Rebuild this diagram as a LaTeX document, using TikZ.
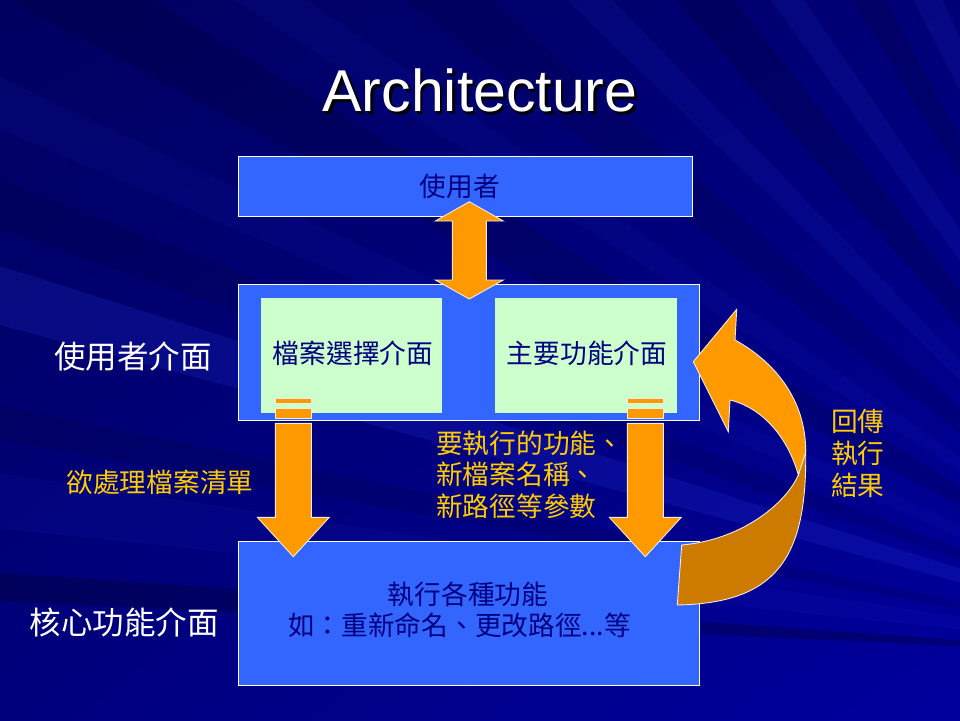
\documentclass[tikz,border=0pt]{standalone}
\usepackage{fontspec}
\setmainfont{Liberation Sans}
\newfontfamily\cjk{Noto Sans CJK TC}
\usetikzlibrary{calc,shadings}

\definecolor{bgUL}{RGB}{0,0,96}
\definecolor{bgUR}{RGB}{0,0,118}
\definecolor{bgLL}{RGB}{0,0,125}
\definecolor{bgLR}{RGB}{0,0,158}
\definecolor{boxblue}{RGB}{51,102,255}
\definecolor{boxgreen}{RGB}{204,255,204}
\definecolor{navytext}{RGB}{0,0,128}
\definecolor{arroworange}{RGB}{255,153,0}
\definecolor{arrowdark}{RGB}{204,122,0}
\definecolor{labelgold}{RGB}{255,204,0}
\definecolor{rimwhite}{RGB}{240,235,225}
\definecolor{raylight}{RGB}{60,80,255}

\begin{document}
\begin{tikzpicture}[x=1pt,y=-1pt,
  bluebox/.style={draw=white, line width=1pt, fill=boxblue, inner sep=0pt},
  greenbox/.style={fill=boxgreen, inner sep=0pt},
  boxtext/.style={font=\cjk\fontsize{26.7}{32}\selectfont, text=navytext, inner sep=0pt},
  sidetext/.style={font=\cjk\fontsize{31.5}{36}\selectfont, text=white, inner sep=0pt},
  goldtext/.style={font=\cjk\fontsize{26.7}{31.5}\selectfont, text=labelgold, inner sep=0pt, align=left},
  blockarrow/.style={fill=arroworange, draw=rimwhite, line width=0.9pt, line join=miter},
  streak/.style={opacity=#1}
]
\useasboundingbox (0,0) rectangle (960,720);

% background with faint rays fanning out from the lower right
\shade[upper left=bgUL, upper right=bgUR, lower left=bgLL, lower right=bgLR]
  (0,0) rectangle (960,720);
\begin{scope}
  \clip (0,0) rectangle (960,720);
  \coordinate (F) at (1250,660);
  \foreach \a/\b/\c/\o in {
      182.7/184/black/0.22, 186/188.5/raylight/0.06, 190/191.5/black/0.10,
      195/197.5/raylight/0.14, 199/201/black/0.10, 203/205/raylight/0.06,
      208/211/black/0.12, 213/215/raylight/0.06, 218/221/black/0.10,
      224/226/raylight/0.08, 229/232/black/0.14, 234/236/raylight/0.09,
      239/241/black/0.12, 243/245/raylight/0.10, 247/249.5/black/0.10,
      251/253/raylight/0.10}
    \fill[\c, streak=\o] (F) -- +(\a:2200) -- +(\b:2200) -- cycle;
\end{scope}

% title with a drop shadow set behind it
\node[font=\fontsize{59}{70}\selectfont, text=white, inner sep=0pt] (title) at (480,92)
  {\makebox[0pt][l]{\hspace{2.5pt}\raisebox{-2.5pt}{\textcolor{black}{Architecture}}}Architecture};

% boxes
\node[bluebox, minimum width=454, minimum height=60, anchor=north west] (user) at (238,156) {};
\node[boxtext] (usertext) at (460,186) {使用者};

\node[bluebox, minimum width=461, minimum height=136, anchor=north west] (ui) at (238,284) {};
\node[greenbox, minimum width=181, minimum height=115, anchor=north west] (filesel) at (261,298) {};
\node[greenbox, minimum width=182, minimum height=115, anchor=north west] (mainfn) at (495,298) {};
\node[boxtext] (fileseltext) at (353,353) {檔案選擇介面};
\node[boxtext] (mainfntext) at (587,353) {主要功能介面};

\node[bluebox, minimum width=461, minimum height=144, anchor=north west] (core) at (238,541) {};
\node[boxtext] (coretext1) at (468,594) {執行各種功能};
\node[boxtext] (coretext2) at (459.5,625) {如：重新命名、更改路徑...等};

% side labels
\node[sidetext] (uilabel) at (133,356) {使用者介面};
\node[sidetext] (corelabel) at (124,622) {核心功能介面};
\node[goldtext] (listlabel) at (160,482) {欲處理檔案清單};
\node[goldtext, anchor=west] (paramlabel) at (436,474.5) {要執行的功能、\\新檔案名稱、\\新路徑等參數};
\node[goldtext, anchor=west, font=\cjk\fontsize{26.7}{32}\selectfont] (returnlabel) at (831,453) {回傳\\執行\\結果};

% two-headed arrow between user and interface
\filldraw[blockarrow]
  (469.3,201.7) -- (503.3,221) -- (486.3,221) -- (486.3,280) -- (503.3,280)
  -- (469.3,299) -- (435.3,280) -- (452.3,280) -- (452.3,221) -- (435.3,221) -- cycle;

% striped down arrows into the core
\tikzset{
  downblock/.pic={
    \filldraw[blockarrow] (-18,398.3) rectangle (18,403.7);
    \filldraw[blockarrow] (-18,408.7) rectangle (18,418.3);
    \filldraw[blockarrow] (-18,423.3) -- (18,423.3) -- (18,517.3) -- (36,517.3)
      -- (0,556.7) -- (-36,517.3) -- (-18,517.3) -- cycle;
  }
}
\pic (leftdown) at (293.3,0) {downblock};
\pic (rightdown) at (645.3,0) {downblock};

% curved return arrow: back face first, then the front face with its head
\filldraw[blockarrow, fill=arrowdark]
  (805.7,452) .. controls (807,560) and (775,603) .. (677.3,605)
  -- (681.7,545) .. controls (740,540) and (785,505) .. (798.3,475) -- cycle;
\filldraw[blockarrow]
  (693.3,361.7) -- (736.7,309.3) -- (735,340)
  .. controls (775,362) and (806,400) .. (805.7,452)
  -- (798.3,475)
  .. controls (788,438) and (763,408) .. (730,400)
  -- (728.3,431.7) -- cycle;
\end{tikzpicture}
\end{document}
